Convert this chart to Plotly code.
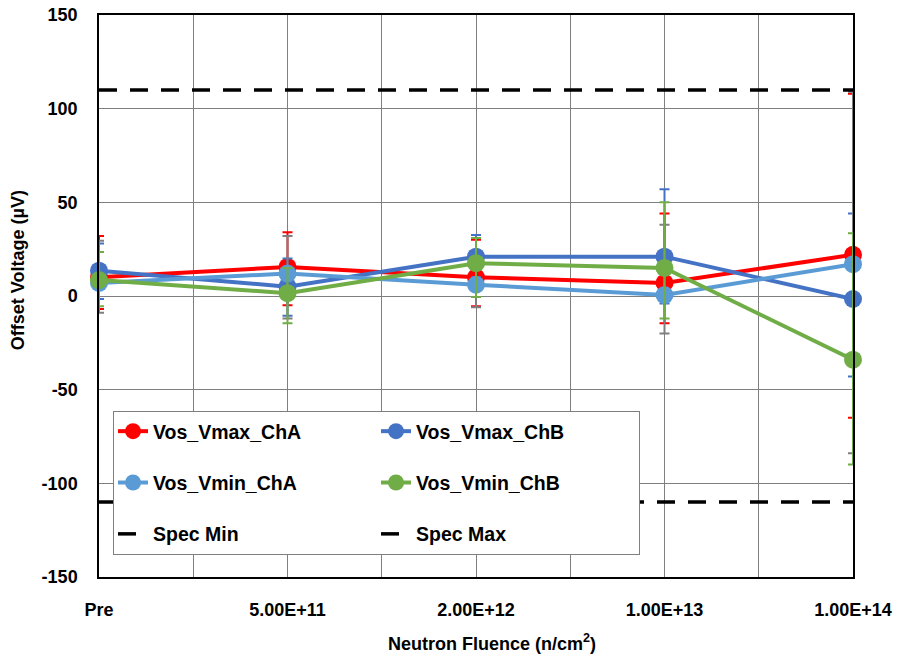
import plotly.graph_objects as go

# ---- data ----
categories = ["Pre", "5.00E+11", "2.00E+12", "1.00E+13", "1.00E+14"]

vmax_cha = [10, 15.5, 10, 7, 22]
vmax_cha_hi = [32, 34, 30, 44, 108]
vmax_cha_lo = [-7, -5, -5.5, -14.5, -65]

vmax_chb = [13.5, 5, 21, 21, -1.6]
vmax_chb_hi = [28, 20, 32.5, 57, 44]
vmax_chb_lo = [-1.6, -10.6, 10, -4, -43]

vmin_cha = [7, 12, 6, 0.5, 17]
vmin_cha_hi = [29.5, 32, 31, 38, 109]
vmin_cha_lo = [-9, -12, -6, -20, -84]

vmin_chb = [8.5, 1.5, 17.5, 15, -34]
vmin_chb_hi = [23.5, 15, 31, 50, 33.5]
vmin_chb_lo = [-5.5, -14.6, -0.5, -12, -90]

spec_min = -110
spec_max = 110

y_ticks = [-150, -100, -50, 0, 50, 100, 150]
y_ticktext = ["-150", "-100", "-50", "0", "50", "100", "150"]

# ---- figure ----
FONT = "Arial, Liberation Sans, sans-serif"
xs = list(range(len(categories)))

series = [
    ("Vos_Vmax_ChA", vmax_cha, vmax_cha_hi, vmax_cha_lo, "#FF0000", "#FF0000"),
    ("Vos_Vmax_ChB", vmax_chb, vmax_chb_hi, vmax_chb_lo, "#4472C4", "#4472C4"),
    ("Vos_Vmin_ChA", vmin_cha, vmin_cha_hi, vmin_cha_lo, "#5B9BD5", "#7F7F7F"),
    ("Vos_Vmin_ChB", vmin_chb, vmin_chb_hi, vmin_chb_lo, "#70AD47", "#70AD47"),
]

fig = go.Figure()
for i, (name, vals, hi, lo, color, ecolor) in enumerate(series):
    fig.add_trace(go.Scatter(
        x=xs, y=vals, name=name, mode="lines+markers",
        line=dict(color=color, width=4),
        marker=dict(color=color, size=18),
        error_y=dict(type="data", symmetric=False,
                     array=[h - v for h, v in zip(hi, vals)],
                     arrayminus=[v - l for l, v in zip(lo, vals)],
                     color=ecolor, thickness=2, width=5),
        cliponaxis=False, legendgroup=f"g{i}",
    ))

for j, (name, val) in enumerate([("Spec Min", spec_min), ("Spec Max", spec_max)]):
    fig.add_trace(go.Scatter(
        x=xs, y=[val] * len(xs), name=name, mode="lines",
        line=dict(color="black", width=3.5, dash="18px,13px"),
        cliponaxis=False, legendgroup=f"s{j}",
    ))

fig.update_layout(
    width=898, height=657,
    margin=dict(l=99, r=45, t=15, b=80, autoexpand=False),
    paper_bgcolor="white", plot_bgcolor="white",
    font=dict(family=FONT, size=18, color="black", weight="bold"),
    showlegend=True,
    legend=dict(
        orientation="h", x=0.0186, y=0.2954, xanchor="left", yanchor="top",
        bgcolor="white", bordercolor="#7F7F7F", borderwidth=1,
        entrywidth=218, tracegroupgap=23, traceorder="grouped",
        font=dict(family=FONT, size=19.5, color="black", weight="bold"),
    ),
    xaxis=dict(
        range=[0, len(categories) - 1], automargin=False,
        tickvals=xs, ticktext=categories, ticklabeloverflow="allow",
        showgrid=True, gridcolor="#7F7F7F", gridwidth=1,
        minor=dict(dtick=0.5, tick0=0, showgrid=True, gridcolor="#7F7F7F", gridwidth=1),
        showline=True, linecolor="black", linewidth=1.5, mirror=True,
        ticks="", ticklabelstandoff=16, zeroline=False,
        tickfont=dict(family=FONT, size=18, color="black", weight="bold"),
    ),
    yaxis=dict(
        range=[-150, 150], tickvals=y_ticks, ticktext=y_ticktext,
        automargin=False, ticklabeloverflow="allow",
        showgrid=True, gridcolor="#7F7F7F", gridwidth=1,
        showline=True, linecolor="black", linewidth=1.5, mirror=True,
        ticks="", ticklabelstandoff=16, zeroline=False,
        tickfont=dict(family=FONT, size=18, color="black", weight="bold"),
    ),
    annotations=[
        dict(text="Offset Voltage (µV)", xref="paper", yref="paper",
             x=-0.1074, y=0.546, textangle=-90, showarrow=False,
             xanchor="center", yanchor="middle",
             font=dict(family=FONT, size=18, color="black", weight="bold")),
        dict(text="Neutron Fluence (n/cm<sup>2</sup>)", xref="paper", yref="paper",
             x=0.521, y=-0.1157, showarrow=False,
             xanchor="center", yanchor="middle",
             font=dict(family=FONT, size=18, color="black", weight="bold")),
    ],
)

# remove the browser's default 8px body margin so the figure fills the window
fig.write_html("out.html", config={"displayModeBar": False},
               post_script="document.body.style.margin='0';")
